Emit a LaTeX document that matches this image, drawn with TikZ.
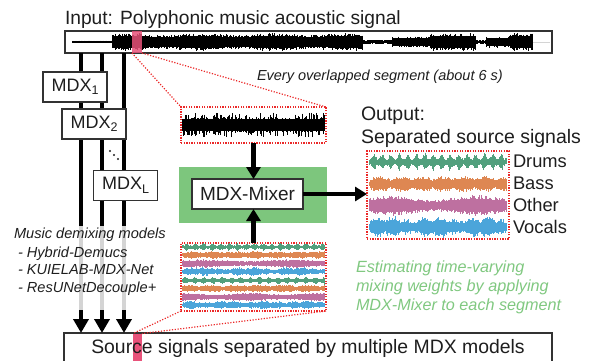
\documentclass[tikz,border=0pt]{standalone}
\usepackage{fontspec}
\setmainfont{Liberation Sans}
\usetikzlibrary{arrows.meta}
\definecolor{wgreen}{RGB}{82,160,125}
\definecolor{worange}{RGB}{222,135,82}
\definecolor{wpurple}{RGB}{190,112,160}
\definecolor{wblue}{RGB}{75,165,218}
\definecolor{boxgreen}{RGB}{125,198,125}
\definecolor{textgreen}{RGB}{128,200,128}
\definecolor{segred}{RGB}{232,82,122}
\definecolor{dotred}{RGB}{235,40,40}
\definecolor{framegray}{RGB}{50,50,50}
\definecolor{lightgraytwo}{RGB}{212,212,212}
\definecolor{txtblack}{RGB}{30,30,30}
% #1 x0, #2 x1, #3 centre y, #4 envelope (may use \i), #5 style, #6 step, #7 random factor
\newcommand\wav[7]{%
  \pgfmathtruncatemacro\wavn{(#2-#1)/#6}%
  \draw[#5] foreach \i in {0,...,\wavn} {({#1+\i*#6},{#3-(#4)*#7}) -- ({#1+\i*#6},{#3+(#4)*#7})};%
}
\newcommand\subs[1]{\raisebox{-3.5pt}{\fontsize{12.5}{12.5}\selectfont #1}}
\begin{document}
\begin{tikzpicture}[x=1pt,y=-1pt,
  frame/.style={draw=framegray, line width=1.2pt, fill=white, inner sep=0pt, outer sep=0pt},
  mdxbox/.style={frame, minimum width=64pt, minimum height=30pt, font=\fontsize{18}{18}\selectfont, text=txtblack},
  segbox/.style={draw=dotred, line width=1.3pt, dash pattern=on 1.3pt off 1.3pt, inner sep=0pt, outer sep=0pt},
  dotline/.style={draw=dotred, line width=1.2pt, dash pattern=on 1.2pt off 1.6pt},
  pinkseg/.style={fill=segred, inner sep=0pt, outer sep=0pt},
  bigarrow/.style={line width=4.5pt, -{Triangle[length=14pt,width=15pt]}},
  midarrow/.style={line width=4.2pt, -{Triangle[length=12pt,width=14pt]}},
  txt/.style={inner sep=0pt, outer sep=0pt, anchor=base west, text=txtblack},
]
\useasboundingbox (0,0) rectangle (590,360);
\pgfmathsetseed{7}

% ---------- input signal
\node[frame, minimum width=487pt, minimum height=22pt] (inbox) at (308.5,42) {};
\wav{72}{112}{42}{1.3}{black,line width=0.7pt}{0.6}{(0.7+0.3*rnd)}
\wav{112}{363}{42}{9*(0.9+0.1*sin(\i*3))}{black,line width=0.7pt}{0.6}{(0.68+0.32*rnd^3)}
\wav{363}{392}{42}{1.8}{black,line width=0.7pt}{0.6}{(0.7+0.3*rnd)}
\wav{392}{430}{42}{5.5}{black,line width=0.7pt}{0.6}{(0.65+0.35*rnd^3)}
\wav{430}{476}{42}{8.8}{black,line width=0.7pt}{0.6}{(0.65+0.35*rnd^3)}
\wav{476}{486}{42}{1.8}{black,line width=0.7pt}{0.6}{(0.7+0.3*rnd)}
\wav{486}{510}{42}{5.6}{black,line width=0.7pt}{0.6}{(0.65+0.35*rnd^3)}
\wav{510}{533}{42}{9}{black,line width=0.7pt}{0.6}{(0.68+0.32*rnd^3)}
\draw[lightgraytwo, line width=0.6pt] (533,42) -- (550,42);
\node[pinkseg, opacity=0.85, minimum width=10pt, minimum height=22pt] (pk1) at (137,42) {};
\node[txt, font=\fontsize{19.2}{19.2}\selectfont] (title) at (65,24) {Input: Polyphonic music acoustic signal};

% ---------- output of models (bottom)
\node[frame, minimum width=488pt, minimum height=34pt] (outbox) at (308,350) {};
\node[pinkseg, minimum width=9pt, minimum height=28pt] (pk2) at (137.5,347.5) {};
\node[txt, anchor=base, font=\fontsize{19.4}{19.4}\selectfont] (srctxt) at (308,353) {Source signals separated by multiple MDX models};

% ---------- model columns
\coordinate (c1) at (81,0);
\coordinate (c2) at (102,0);
\coordinate (c3) at (124,0);
\coordinate (gtop) at (0,226);
\coordinate (gbot) at (0,310);
\foreach \c in {c1,c2,c3}{
  \draw[bigarrow] (\c |- inbox.south) -- (\c |- outbox.north);
  \draw[lightgraytwo, line width=4.5pt] (\c |- gtop) -- (\c |- gbot);
}
\node[mdxbox] (mdx1) at (75,87) {MDX\subs{1}};
\node[mdxbox] (mdx2) at (94,124) {MDX\subs{2}};
\node[mdxbox] (mdxL) at (125.5,185.5) {MDX\subs{L}};
\fill[txtblack] (110,151) circle (1.1) (114,155) circle (1.1) (118,159) circle (1.1);

\node[txt, font=\fontsize{14.6}{14.6}\selectfont\itshape] (models) at (14,238) {Music demixing models};
\node[txt, font=\fontsize{14.6}{14.6}\selectfont\itshape] (m1) at (18,257) {- Hybrid-Demucs};
\node[txt, font=\fontsize{14.6}{14.6}\selectfont\itshape] (m2) at (18,274.5) {- KUIELAB-MDX-Net};
\node[txt, font=\fontsize{14.6}{14.6}\selectfont\itshape] (m3) at (18,292) {- ResUNetDecouple+};

% ---------- segment (top)
\node[txt, font=\fontsize{14.5}{14.5}\selectfont\itshape] (every) at (257,80) {Every overlapped segment (about 6 s)};
\node[segbox, minimum width=145pt, minimum height=36pt, fill=white] (seg1) at (253.5,125) {};
\wav{182.5}{324.5}{125}{12.5}{black,line width=0.6pt}{0.5}{(0.48+0.52*rnd^6)}
\draw[dotline] (pk1.south west) -- (seg1.north west);
\draw[dotline] (pk1.south east) -- (seg1.north east);

% ---------- segment (separated)
\node[segbox, minimum width=145pt, minimum height=68pt, fill=white] (seg2) at (253.5,277) {};
\wav{182.5}{324.5}{247}{4.2*(0.45+0.55*abs(sin(\i*10.6))^4)}{wgreen,line width=0.6pt}{0.5}{(0.6+0.4*rnd^3)}
\wav{182.5}{324.5}{255}{3.8*(0.5+0.5*abs(sin(\i*4.3))^0.4)}{worange,line width=0.6pt}{0.5}{(0.65+0.35*rnd^3)}
\wav{182.5}{324.5}{263.5}{4.4*(0.8+0.2*sin(\i*2.1))}{wpurple,line width=0.6pt}{0.5}{(0.65+0.35*rnd^3)}
\wav{182.5}{324.5}{271.5}{4.6*(0.45+0.55*abs(sin(\i*1.9+20)*sin(\i*5.7))^0.5)}{wblue,line width=0.6pt}{0.5}{(0.6+0.4*rnd^3)}
\wav{182.5}{324.5}{280.5}{4.2*(0.45+0.55*abs(sin(\i*9.7+40))^4)}{wgreen,line width=0.6pt}{0.5}{(0.6+0.4*rnd^3)}
\wav{182.5}{324.5}{288.5}{3.8*(0.5+0.5*abs(sin(\i*3.7+60))^0.4)}{worange,line width=0.6pt}{0.5}{(0.65+0.35*rnd^3)}
\wav{182.5}{324.5}{297}{4.4*(0.8+0.2*sin(\i*2.7+90))}{wpurple,line width=0.6pt}{0.5}{(0.65+0.35*rnd^3)}
\wav{182.5}{324.5}{305}{4.6*(0.45+0.55*abs(sin(\i*2.3+70)*sin(\i*6.1))^0.5)}{wblue,line width=0.6pt}{0.5}{(0.6+0.4*rnd^3)}
\draw[dotline] (seg2.south west) -- (pk2.north west);
\draw[dotline] (seg2.south east) -- (pk2.north east);

% ---------- mixer
\node[fill=boxgreen, inner sep=0pt, outer sep=0pt, minimum width=148pt, minimum height=56pt] (greenbox) at (253,195) {};
\node[frame, minimum width=111pt, minimum height=30pt, font=\fontsize{19}{19}\selectfont, text=txtblack] (mixer) at (247.5,194) {MDX-Mixer};
\draw[midarrow] (seg1.south) -- (seg1.south |- mixer.north);
\draw[midarrow] (seg2.north) -- (seg2.north |- mixer.south);

% ---------- output
\node[txt, font=\fontsize{19.5}{19.5}\selectfont] (outlbl) at (361,120) {Output:};
\node[txt, font=\fontsize{19.5}{19.5}\selectfont] (seplbl) at (361,143.5) {Separated source signals};
\node[segbox, minimum width=142pt, minimum height=88pt, fill=white] (outsig) at (438,195) {};
\wav{369.5}{506.5}{162}{9.5*(0.4+0.6*abs(sin(\i*10.6))^4)}{wgreen,line width=0.6pt}{0.5}{(0.6+0.4*rnd^3)}
\wav{369.5}{506.5}{184}{8*(0.45+0.55*abs(sin(\i*4.3))^0.4)}{worange,line width=0.6pt}{0.5}{(0.62+0.38*rnd^3)}
\wav{369.5}{506.5}{205.5}{10.5*(0.78+0.22*sin(\i*2.1))}{wpurple,line width=0.6pt}{0.5}{(0.62+0.38*rnd^3)}
\wav{369.5}{506.5}{227}{11.5*(0.4+0.6*abs(sin(\i*1.9+20)*sin(\i*5.7))^0.5)}{wblue,line width=0.6pt}{0.5}{(0.6+0.4*rnd^3)}
\draw[midarrow] (mixer.east) -- (mixer.east -| outsig.west);
\node[txt, font=\fontsize{18.3}{18.3}\selectfont] (ldrums) at (513,167) {Drums};
\node[txt, font=\fontsize{18.3}{18.3}\selectfont] (lbass) at (513,189) {Bass};
\node[txt, font=\fontsize{18.3}{18.3}\selectfont] (lother) at (513,211.5) {Other};
\node[txt, font=\fontsize{18.3}{18.3}\selectfont] (lvocals) at (513,233) {Vocals};

% ---------- green note
\node[txt, text=textgreen, font=\fontsize{16.2}{16.2}\selectfont\itshape] (g1) at (356,272) {Estimating time-varying};
\node[txt, text=textgreen, font=\fontsize{16.2}{16.2}\selectfont\itshape] (g2) at (356,291) {mixing weights by applying};
\node[txt, text=textgreen, font=\fontsize{16.2}{16.2}\selectfont\itshape] (g3) at (356,310) {MDX-Mixer to each segment};
\end{tikzpicture}
\end{document}
